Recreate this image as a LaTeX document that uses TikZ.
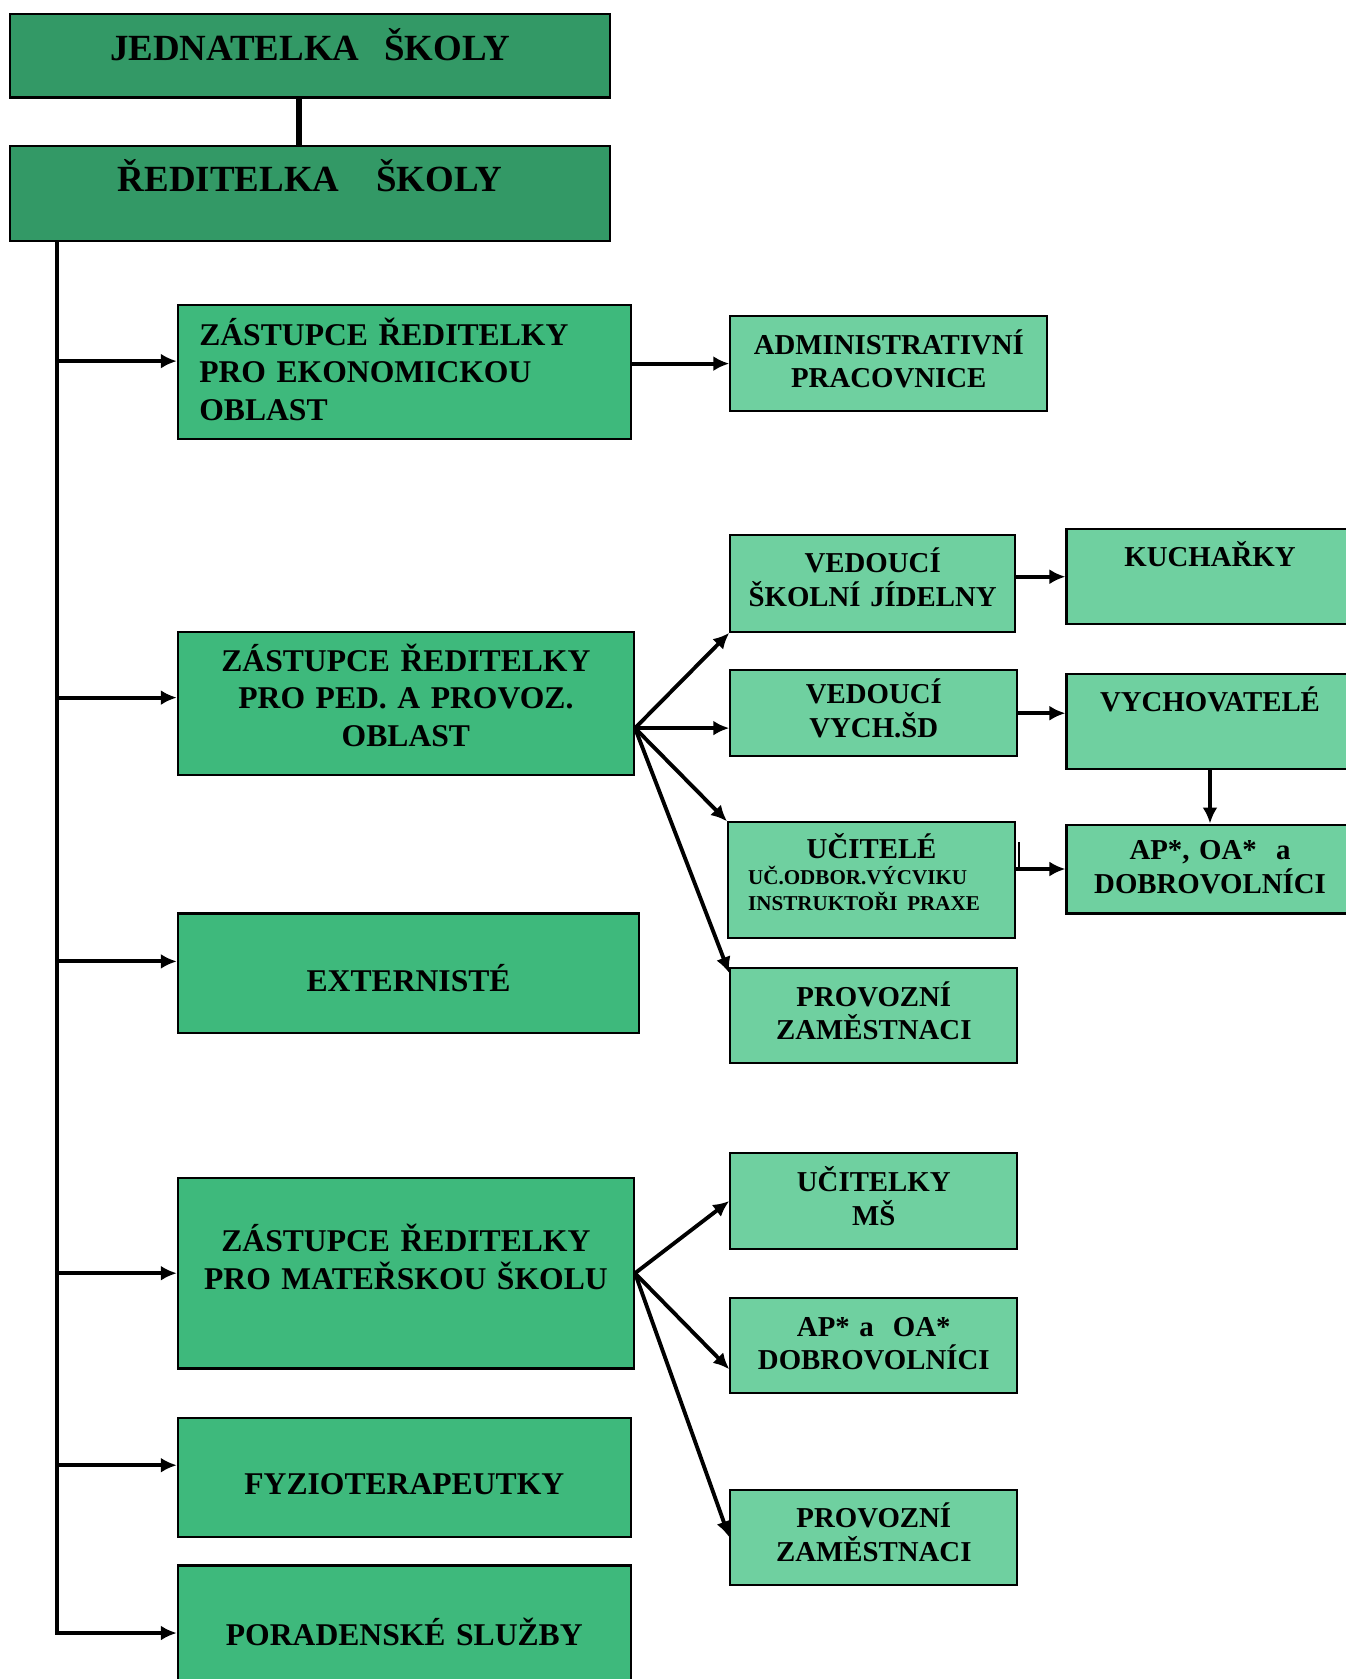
\documentclass[tikz,border=0pt]{standalone}
\usepackage{fontspec}
\setmainfont{Liberation Serif}
\usetikzlibrary{arrows.meta}

\definecolor{darkgreen}{RGB}{51,153,102}
\definecolor{midgreen}{RGB}{62,185,124}
\definecolor{lightgreen}{RGB}{111,208,160}

\tikzset{
  box/.style={draw, line width=0.6pt, align=center, inner sep=0pt},
  dim/.style 2 args={minimum width=#1cm, minimum height=#2cm, text width=#1cm},
  txt/.style 2 args={text height=#1pt, text depth=#2pt},
  darkbox/.style={box, fill=darkgreen, font=\bfseries\fontsize{10.5}{12}\selectfont},
  midbox/.style={box, fill=midgreen, font=\bfseries\fontsize{9}{10.65}\selectfont},
  lightbox/.style={box, fill=lightgreen, font=\bfseries\fontsize{8.2}{9.6}\selectfont,
    dim={2.87}{0.953}, txt={7}{12.4}},
  conn/.style={line width=1.15pt},
  arr/.style={->, line width=1.1pt}
}

\begin{document}
\begin{tikzpicture}[x=1cm,y=-1cm,>={Latex[length=1.6mm,width=1.5mm]}]
  \useasboundingbox (0,0) rectangle (13.46,16.79);

  % vedeni
  \node[darkbox, dim={6.008}{0.835}, txt={9}{6.5}] (jedn) at (3.10,0.557) {JEDNATELKA\ \ ŠKOLY};
  \node[darkbox, dim={6.008}{0.953}, txt={9}{10.3}] (red) at (3.10,1.933) {ŘEDITELKA\ \ \ ŠKOLY};

  % levy sloupec
  \node[midbox, dim={4.529}{1.338}, align=left, text width=4.1cm, txt={8}{23.3}] (ekon) at (4.043,3.721)
    {ZÁSTUPCE ŘEDITELKY\\ PRO EKONOMICKOU\\ OBLAST};
  \node[midbox, dim={4.561}{1.435}, txt={8}{26.3}] (ped) at (4.059,7.036)
    {ZÁSTUPCE ŘEDITELKY\\ PRO PED. A PROVOZ.\\ OBLAST};
  \node[midbox, dim={4.615}{1.199}, txt={10.2}{0}] (ext) at (4.086,9.734) {EXTERNISTÉ};
  \node[midbox, dim={4.561}{1.906}, txt={8}{20.3}] (ms) at (4.059,12.732)
    {ZÁSTUPCE ŘEDITELKY\\ PRO MATEŘSKOU ŠKOLU};
  \node[midbox, dim={4.529}{1.189}, txt={9.9}{0}] (fyz) at (4.043,14.772) {FYZIOTERAPEUTKY};
  \node[midbox, dim={4.529}{1.35}, txt={8}{1}] (por) at (4.043,16.33) {PORADENSKÉ SLUŽBY};

  % prostredni sloupec
  \node[lightbox, dim={3.169}{0.953}] (admin) at (8.888,3.636) {ADMINISTRATIVNÍ\\ PRACOVNICE};
  \node[lightbox, dim={2.848}{0.964}, txt={7}{13.3}] (jid) at (8.727,5.836) {VEDOUCÍ\\ ŠKOLNÍ JÍDELNY};
  \node[lightbox, dim={2.87}{0.857}] (vsd) at (8.738,7.132) {VEDOUCÍ\\ VYCH.ŠD};
  \node[lightbox, dim={2.87}{1.156}, align=left, text width=2.47cm, txt={7}{19.2}] (uci) at (8.716,8.802)
    {\hfill UČITELÉ\hfill\null\\ {\fontsize{6}{7.4}\selectfont UČ.ODBOR.VÝCVIKU\\ INSTRUKTOŘI PRAXE\par}};
  \node[lightbox] (prov) at (8.738,10.157) {PROVOZNÍ\\ ZAMĚSTNACI};
  \node[lightbox] (ucms) at (8.738,12.010) {UČITELKY\\ MŠ};
  \node[lightbox] (apms) at (8.738,13.455) {AP* a\ \ OA*\\ DOBROVOLNÍCI};
  \node[lightbox] (provms) at (8.738,15.372) {PROVOZNÍ\\ ZAMĚSTNACI};

  % pravy sloupec
  \node[lightbox, txt={8}{13.6}] (kuch) at (12.10,5.767) {KUCHAŘKY};
  \node[lightbox, txt={8}{13.4}] (vych) at (12.10,7.212) {VYCHOVATELÉ};
  \node[lightbox, dim={2.87}{0.889}] (apoa) at (12.10,8.690) {AP*, OA*\ \ a\\ DOBROVOLNÍCI};

  % spojnice
  \draw[line width=1.6pt] ([xshift=-1.1mm]jedn.south) -- ([xshift=-1.1mm]red.north);
  \coordinate (trunk) at ([xshift=4.82mm]red.south west);
  \draw[conn] (trunk) -- (trunk |- por.west);
  \foreach \n/\s in {ekon/1.1, ped/0.6, ext/1.2, ms/0, fyz/1.2, por/0}
    \draw[arr] (trunk) |- ([yshift=\s mm]\n.west);

  \draw[arr] (ekon.east |- admin.west) -- (admin.west);

  \coordinate (pedout) at ([yshift=-2.45mm]ped.east);
  \draw[arr] (pedout) -- (jid.south west);
  \draw[arr] (pedout) -- (pedout -| vsd.west);
  \draw[arr] (pedout) -- (uci.north west);
  \draw[arr] (pedout) -- ([yshift=-0.6mm]prov.north west);

  \draw[arr] (ms.east) -- (ucms.west);
  \draw[arr] (ms.east) -- ([yshift=2.5mm]apms.south west);
  \draw[arr] (ms.east) -- (provms.west);

  \draw[arr] (jid.east |- kuch.west) -- (kuch.west);
  \draw[arr] (vsd.east) -- (vsd.east -| vych.west);
  \draw[arr] (vych.south) -- (apoa.north);
  \draw[arr] (uci.east |- apoa.west) -- (apoa.west);
  \draw[line width=0.6pt] ([xshift=0.3mm]uci.east |- apoa.west) -- ++(0,-0.27);

\end{tikzpicture}
\end{document}
